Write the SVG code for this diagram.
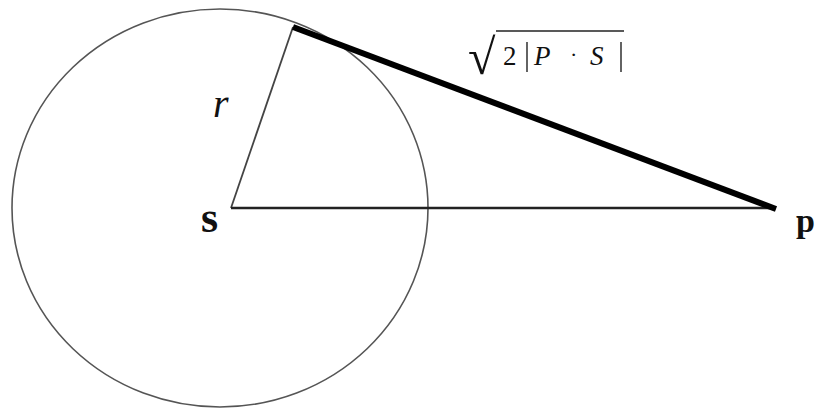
<svg xmlns="http://www.w3.org/2000/svg" width="816" height="409" viewBox="0 0 816 409">
<style>
.t{font-family:"Liberation Serif","Times New Roman",serif;fill:#111}
.thin{stroke:#555;stroke-width:1.6;fill:none}
</style>
<rect width="816" height="409" fill="#fff"/>
<g id="circle">
<ellipse cx="220" cy="208" rx="208" ry="199" class="thin" stroke="#777"/>
</g>
<g id="connectors">
<line x1="231" y1="208" x2="293" y2="27" stroke="#444" stroke-width="1.8"/>
<line x1="231" y1="208" x2="776" y2="208" stroke="#222" stroke-width="2.6"/>
<line x1="293" y1="27" x2="776" y2="209" stroke="#000" stroke-width="6"/>
</g>
<g id="label-r"><text class="t" x="213" y="117" font-size="40" font-style="italic">r</text></g>
<g id="node-s"><text class="t" x="201" y="232" font-size="44" font-weight="bold">s</text></g>
<g id="node-p"><text class="t" x="796" y="232" font-size="34" font-weight="bold">p</text></g>
<g id="label-len">
<text class="t" x="468" y="74" font-size="50">√</text>
<line x1="496" y1="31" x2="624" y2="31" stroke="#222" stroke-width="1.6"/>
<text class="t" x="503" y="65" font-size="27">2</text>
<line x1="527" y1="42" x2="527" y2="72" stroke="#222" stroke-width="1.4"/>
<text class="t" x="534" y="65" font-size="27" font-style="italic">P</text>
<text class="t" x="570" y="62" font-size="22">·</text>
<text class="t" x="590" y="65" font-size="27" font-style="italic">S</text>
<line x1="621" y1="42" x2="621" y2="72" stroke="#222" stroke-width="1.4"/>
</g>
</svg>
